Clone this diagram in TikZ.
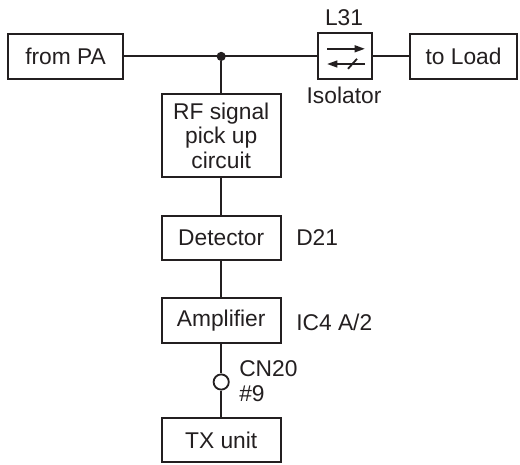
\documentclass[tikz,border=0pt]{standalone}
\usepackage{fontspec}
\setmainfont{Liberation Sans}
\usepackage{xcolor}
\usepackage{tikz}
\usetikzlibrary{positioning,arrows.meta,calc}

\definecolor{ink}{HTML}{231F20}

\begin{document}
\begin{tikzpicture}[
    blk/.style={draw=ink, text=ink, line width=1.4pt, minimum width=2.975cm,
                minimum height=1.1cm, inner sep=2pt, align=center,
                font=\fontsize{16.2}{17.6}\selectfont},
    lbl/.style={text=ink, inner sep=0pt, font=\fontsize{16.2}{17.6}\selectfont},
    wire/.style={ink, line width=1.4pt},
    isoarr/.style={-{Triangle[length=2.6mm, width=1.7mm]}, ink, line width=1.4pt},
]
\useasboundingbox (0,0) rectangle (13,-11.6);

% ===== Top row =====
\node[blk, minimum width=2.875cm, minimum height=1.125cm] (pa)  at (1.64,-1.41)  {from PA};
\node[blk, minimum width=1.35cm, minimum height=1.15cm]   (iso) at (8.625,-1.41) {};
\node[blk, minimum width=2.675cm, minimum height=1.125cm] (ld)  at (11.59,-1.41) {to Load};
\node[circle, fill=ink, inner sep=0pt, minimum size=0.23cm] (jn) at (5.53,-1.41) {};
\node[lbl] (l31) at (8.6,-0.45) {L31};
\node[lbl] (isl) at (8.6,-2.38) {Isolator};

% ===== Column of blocks =====
\node[blk, minimum height=2.075cm] (rf)  at (5.53,-3.39)  {RF signal\\pick up\\circuit};
\node[blk]                         (det) at (5.53,-5.95)  {Detector};
\node[blk, minimum height=1.125cm] (amp) at (5.53,-8.01)  {Amplifier};
\node[circle, draw=ink, line width=1.3pt, inner sep=0pt, minimum size=0.38cm]
                                   (cn)  at (5.53,-9.55)  {};
\node[blk]                         (tx)  at (5.53,-11.0)  {TX unit};

% ===== Side labels =====
\node[lbl, anchor=west] (d21)  at (7.4,-5.95)  {D21};
\node[lbl, anchor=west] (ic4)  at (7.4,-8.05)  {IC4 A/2};
\node[lbl, anchor=west] (cn20) at (5.975,-9.22) {CN20};
\node[lbl, anchor=west] (pin9) at (5.975,-9.83) {\#9};

% ===== Wires =====
\draw[wire] (pa.east) -- (iso.west);
\draw[wire] (iso.east) -- (ld.west);
\draw[wire] (jn) -- (rf.north);
\draw[wire] (rf.south) -- (det.north);
\draw[wire] (det.south) -- (amp.north);
\draw[wire] (amp.south) -- (cn.north);
\draw[wire] (cn.south) -- (tx.north);

% ===== Isolator symbol =====
\draw[isoarr] ([shift={(-0.45,0.19)}]iso.center) -- ++(0.95,0);
\draw[isoarr] ([shift={(0.5,-0.19)}]iso.center) -- ++(-0.95,0);
\draw[ink, line width=1.3pt] ([shift={(0.075,-0.31)}]iso.center) -- ([shift={(0.3,-0.06)}]iso.center);

\end{tikzpicture}
\end{document}
